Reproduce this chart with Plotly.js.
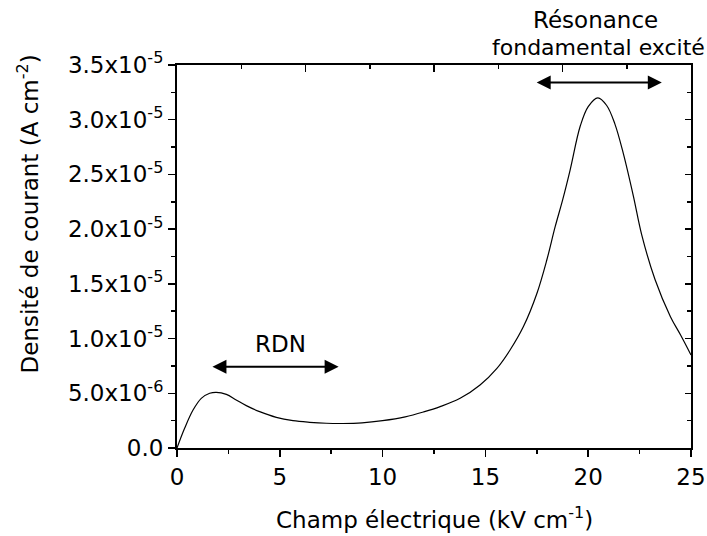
<!DOCTYPE html>
<html>
<head>
<meta charset="utf-8">
<script src="https://cdn.plot.ly/plotly-3.0.1.min.js"></script>
<style>html,body{margin:0;padding:0;background:#fff;}#chart{width:707px;height:536px;}</style>
</head>
<body>
<div id="chart"></div>
<script>
// Electric field (kV cm^-1)
const champ = [0, 0.37, 0.78, 1.18, 1.59, 1.91, 2.40, 2.88, 3.37, 4.02, 4.83, 5.64, 6.45, 7.26, 8.07, 9.0, 10.0, 11.1, 12.0, 12.8, 13.77, 14.74, 15.56, 16.2, 16.85, 17.5, 17.99, 18.39, 18.76, 19.12, 19.61, 20.0, 20.47, 20.9, 21.3, 21.71, 22.2, 22.6, 23.25, 24.0, 24.5, 25.0];
// Current density (A cm^-2)
const densite = [0, 1.8e-6, 3.47e-6, 4.54e-6, 5.0e-6, 5.09e-6, 4.9e-6, 4.39e-6, 3.87e-6, 3.32e-6, 2.8e-6, 2.5e-6, 2.35e-6, 2.26e-6, 2.24e-6, 2.3e-6, 2.5e-6, 2.85e-6, 3.3e-6, 3.78e-6, 4.54e-6, 5.76e-6, 7.28e-6, 8.96e-6, 11.1e-6, 14.1e-6, 17.2e-6, 20.2e-6, 22.7e-6, 25.4e-6, 29.4e-6, 31.2e-6, 32.0e-6, 31.3e-6, 29.6e-6, 26.9e-6, 23.0e-6, 19.5e-6, 15.4e-6, 12.0e-6, 10.3e-6, 8.5e-6];
const yTickVals = [0, 5e-6, 1e-5, 1.5e-5, 2e-5, 2.5e-5, 3e-5, 3.5e-5];
const yTickText = ["0.0", "5.0x10<sup>-6</sup>", "1.0x10<sup>-5</sup>", "1.5x10<sup>-5</sup>", "2.0x10<sup>-5</sup>", "2.5x10<sup>-5</sup>", "3.0x10<sup>-5</sup>", "3.5x10<sup>-5</sup>"];
const xTitle = "Champ électrique (kV cm<sup>-1</sup>)";
const yTitle = "Densité de courant (A cm<sup>-2</sup>)";
const labelRDN = "RDN";
const labelRes1 = "Résonance";
const labelRes2 = "fondamental excité";
const rdnArrow = {x0: 1.70, x1: 7.86, y: 7.43e-6};
const resArrow = {x0: 17.47, x1: 23.58, y: 33.4e-6};

const F = {family: "DejaVu Sans", size: 23, color: "#000"};
const F2 = {family: "DejaVu Sans", size: 22, color: "#000"};

const traces = [
  {x: champ, y: densite, type: "scatter", mode: "lines",
   line: {color: "#000", width: 1.2, shape: "spline", smoothing: 1},
   hoverinfo: "skip", showlegend: false},
  {x: [null], y: [null], xaxis: "x2", yaxis: "y2", type: "scatter", mode: "lines",
   hoverinfo: "skip", showlegend: false}
];

function arrow(a) {
  return {x: a.x1, y: a.y, ax: a.x0, ay: a.y, xref: "x", yref: "y", axref: "x", ayref: "y",
    text: "", showarrow: true, arrowhead: 2, arrowside: "end+start", arrowsize: 1.4,
    arrowwidth: 2, arrowcolor: "#000", standoff: 0, startstandoff: 0, borderpad: 0};
}

const layout = {
  width: 707, height: 536,
  margin: {l: 177, r: 16, t: 65, b: 88, pad: 0},
  paper_bgcolor: "#fff", plot_bgcolor: "#fff",
  font: F,
  showlegend: false,
  xaxis: {
    range: [0, 25], tickmode: "linear", tick0: 0, dtick: 5,
    ticks: "outside", ticklen: 7, tickwidth: 1.5, tickcolor: "#000",
    minor: {ticks: "outside", ticklen: 4, tickwidth: 1.5, tickcolor: "#000", tickmode: "linear", tick0: 0, dtick: 2.5},
    showline: true, linewidth: 2, linecolor: "#000", mirror: true,
    showgrid: false, zeroline: false, tickfont: F, fixedrange: true
  },
  yaxis: {
    range: [0, 3.5e-5], tickmode: "array", tickvals: yTickVals, ticktext: yTickText,
    ticks: "outside", ticklen: 7, tickwidth: 1.5, tickcolor: "#000",
    minor: {ticks: "outside", ticklen: 4, tickwidth: 1.5, tickcolor: "#000", tickmode: "linear", tick0: 0, dtick: 2.5e-6},
    showline: true, linewidth: 2, linecolor: "#000", mirror: true,
    showgrid: false, zeroline: false, tickfont: F, fixedrange: true
  },
  xaxis2: {
    overlaying: "x", side: "top", range: [0, 25], tickmode: "linear", tick0: 0, dtick: 6.25,
    ticks: "inside", ticklen: 7, tickwidth: 1.5, tickcolor: "#000",
    minor: {ticks: "inside", ticklen: 4, tickwidth: 1.5, tickcolor: "#000", tickmode: "linear", tick0: 0, dtick: 3.125},
    showticklabels: false, showline: false, showgrid: false, zeroline: false, fixedrange: true
  },
  yaxis2: {
    overlaying: "y", side: "right", range: [0, 3.5e-5], tickmode: "linear", tick0: 0, dtick: 5e-6,
    ticks: "inside", ticklen: 6, tickwidth: 1.5, tickcolor: "#000",
    minor: {ticks: "inside", ticklen: 4, tickwidth: 1.5, tickcolor: "#000", tickmode: "linear", tick0: 0, dtick: 2.5e-6},
    showticklabels: false, showline: false, showgrid: false, zeroline: false, fixedrange: true
  },
  annotations: [
    {text: xTitle, xref: "paper", yref: "paper", x: 0.5, y: -0.183, xanchor: "center", yanchor: "middle", showarrow: false, font: F},
    {text: yTitle, xref: "paper", yref: "paper", x: -0.289, y: 0.611, xanchor: "center", yanchor: "middle", textangle: -90, showarrow: false, font: F},
    {text: labelRDN, xref: "paper", yref: "paper", x: (280 - 176.7) / 514.3, y: (448 - 344) / 383, xanchor: "center", yanchor: "middle", showarrow: false, font: F},
    {text: labelRes1, xref: "paper", yref: "paper", x: (595.5 - 176.7) / 514.3, y: (448 - 20) / 383, xanchor: "center", yanchor: "middle", showarrow: false, font: F},
    {text: labelRes2, xref: "paper", yref: "paper", x: (490 - 176.7) / 514.3, y: (448 - 47) / 383, xanchor: "left", yanchor: "middle", showarrow: false, font: F2},
    arrow(rdnArrow),
    arrow(resArrow)
  ]
};

Plotly.newPlot("chart", traces, layout, {displayModeBar: false, staticPlot: true});
</script>
</body>
</html>
